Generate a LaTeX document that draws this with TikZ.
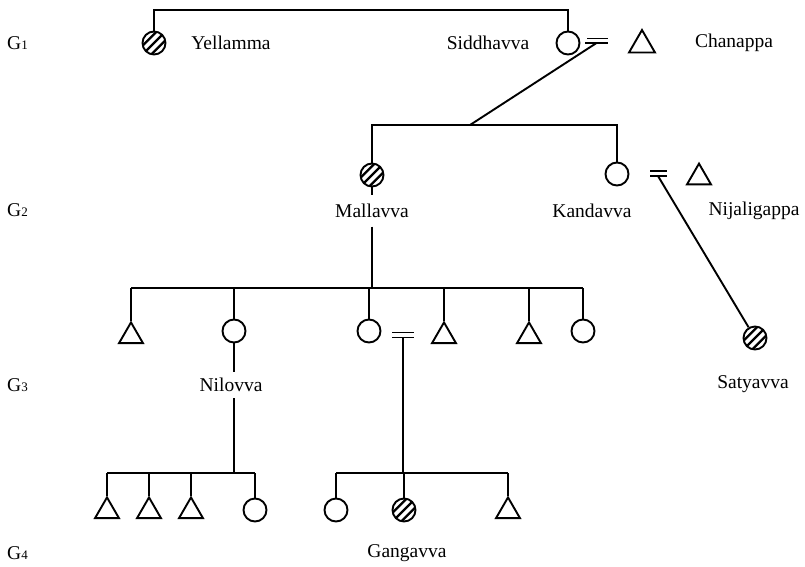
\documentclass[tikz,border=0pt]{standalone}
\usepackage{fontspec}
\setmainfont{Liberation Serif}
\usetikzlibrary{shapes.geometric,calc}
\begin{document}
\begin{tikzpicture}[x=1pt,y=-1pt,
  kin/.style={line width=1.9pt},
  female/.style={circle,draw,line width=1.9pt,inner sep=0pt,minimum size=23pt},
  male/.style={regular polygon,regular polygon sides=3,draw,line width=1.9pt,
    inner sep=0pt,minimum size=27.6pt},
  hatched/.style={path picture={
    \foreach \i in {-2,...,2}
      \draw[line width=2.3pt]
        ([shift={(\i*4.4-20,\i*4.4+20)}]path picture bounding box.center) -- ++(40,-40);}},
  pname/.style={font=\fontsize{19.5}{23}\selectfont,inner sep=0pt},
  gen/.style={font=\fontsize{19.5}{23}\selectfont,inner sep=0pt,anchor=west}]
\useasboundingbox (0,0) rectangle (805,566);

% generation labels
\node[gen] (g1) at (7,43)  {G{\fontsize{13}{13}\selectfont 1}};
\node[gen] (g2) at (7,210) {G{\fontsize{13}{13}\selectfont 2}};
\node[gen] (g3) at (7,385) {G{\fontsize{13}{13}\selectfont 3}};
\node[gen] (g4) at (7,553) {G{\fontsize{13}{13}\selectfont 4}};

% levels of the sibling bars
\coordinate (b1) at (0,10);
\coordinate (b2) at (0,125);
\coordinate (b3) at (0,288);
\coordinate (b4) at (0,473);

% first generation
\node[female,hatched] (yel) at (154,43) {};
\node[female] (sid) at (568,43) {};
\node[male,minimum size=30pt] (cha) at (642,45) {};
\node[pname] (yelL) at (231,43) {Yellamma};
\node[pname] (sidL) at (488,43) {Siddhavva};
\node[pname] (chaL) at (734,43) {Chanappa};

% second generation
\node[female,hatched] (mal) at (372,175) {};
\node[female] (kan) at (617,174) {};
\node[male] (nij) at (699,177.4) {};
\node[pname,inner ysep=8.5pt] (malL) at (372,211) {Mallavva};
\node[pname] (kanL) at (592,211) {Kandavva};
\node[pname] (nijL) at (754,211) {Nijaligappa};

% Kandavva's daughter
\node[female,hatched] (sat) at (755,338) {};
\node[pname] (satL) at (753,384) {Satyavva};

% third generation
\node[male] (t31) at (131,336.2) {};
\node[female] (nil) at (234,331) {};
\node[female] (c33) at (369,331) {};
\node[male] (h33) at (444,336.2) {};
\node[male] (t34) at (529,336.2) {};
\node[female] (c35) at (583,331) {};
\node[pname,inner ysep=6pt] (nilL) at (231,385) {Nilovva};

% fourth generation
\node[male] (t41) at (107,511.2) {};
\node[male] (t42) at (149,511.2) {};
\node[male] (t43) at (191,511.2) {};
\node[female] (c44) at (255,510) {};
\node[female] (c45) at (336,510) {};
\node[female,hatched] (gan) at (404,510) {};
\node[male] (t47) at (508,511.2) {};
\node[pname] (ganL) at (407,553) {Gangavva};

% marriage signs
\coordinate (m1) at (596.5,43);
\coordinate (m2) at (658,176);
\coordinate (m3) at (403,337.5);
\draw[kin] (587,38.5) -- (608,38.5) (585,43) -- (608,43);
\draw[kin] (650,171) -- (667,171) (650,176) -- (667,176);
\draw[kin] (392,332.5) -- (414,332.5) (392,337.5) -- (414,337.5);

% sibling bars and descent lines
\draw[kin] (yel.north) -- (yel.north |- b1) -- (sid.north |- b1) -- (sid.north);

\coordinate (d1) at (470,125);
\draw[kin] (m1) -- (d1);
\draw[kin] (mal.north) -- (mal.north |- b2) -- (kan.north |- b2) -- (kan.north);

\draw[kin] (m2) -- (sat);

\draw[kin] (mal.south) -- (mal.south |- malL.north);
\draw[kin] (mal.south |- malL.south) -- (mal.south |- b3);
\draw[kin] (t31.north |- b3) -- (c35.north |- b3);
\foreach \c in {t31,nil,c33,h33,t34,c35}
  \draw[kin] (\c.north |- b3) -- (\c.north);

\draw[kin] (nil.south) -- (nil.south |- nilL.north);
\draw[kin] (nil.south |- nilL.south) -- (nil.south |- b4);
\draw[kin] (t41.north |- b4) -- (c44.north |- b4);
\foreach \c in {t41,t42,t43,c44}
  \draw[kin] (\c.north |- b4) -- (\c.north);

\draw[kin] (m3) -- (m3 |- b4);
\draw[kin] (c45.north |- b4) -- (t47.north |- b4);
\foreach \c in {c45,gan,t47}
  \draw[kin] (\c.north |- b4) -- (\c.north);
\end{tikzpicture}
\end{document}
